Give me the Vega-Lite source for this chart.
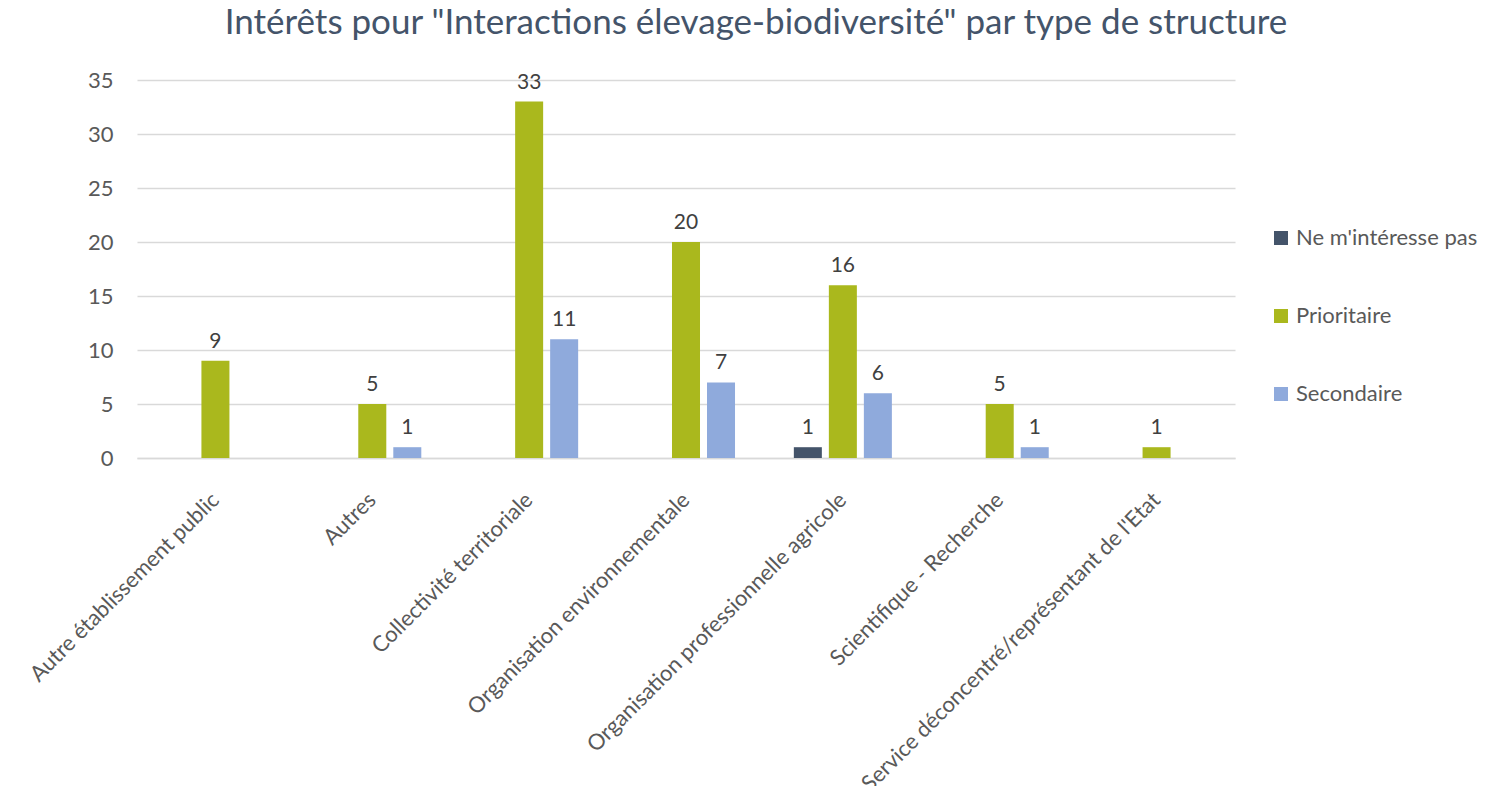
{
  "$schema": "https://vega.github.io/schema/vega-lite/v6.json",
  "width": 1098,
  "height": 378,
  "autosize": {"type": "none"},
  "padding": {"left": 137, "top": 80, "right": 259, "bottom": 328},
  "background": "white",
  "config": {
    "font": "Lato",
    "view": {"stroke": null}
  },
  "title": {
    "text": "Intérêts pour \"Interactions élevage-biodiversité\" par type de structure",
    "fontSize": 35,
    "fontWeight": "normal",
    "color": "#44546A",
    "anchor": "middle",
    "frame": "group",
    "dx": 70,
    "offset": 28
  },
  "data": {
    "values": [
      {"structure": "Autre établissement public", "interet": "Prioritaire", "n": 9},
      {"structure": "Autres", "interet": "Prioritaire", "n": 5},
      {"structure": "Autres", "interet": "Secondaire", "n": 1},
      {"structure": "Collectivité territoriale", "interet": "Prioritaire", "n": 33},
      {"structure": "Collectivité territoriale", "interet": "Secondaire", "n": 11},
      {"structure": "Organisation environnementale", "interet": "Prioritaire", "n": 20},
      {"structure": "Organisation environnementale", "interet": "Secondaire", "n": 7},
      {"structure": "Organisation professionnelle agricole", "interet": "Ne m'intéresse pas", "n": 1},
      {"structure": "Organisation professionnelle agricole", "interet": "Prioritaire", "n": 16},
      {"structure": "Organisation professionnelle agricole", "interet": "Secondaire", "n": 6},
      {"structure": "Scientifique - Recherche", "interet": "Prioritaire", "n": 5},
      {"structure": "Scientifique - Recherche", "interet": "Secondaire", "n": 1},
      {"structure": "Service déconcentré/représentant de l'Etat", "interet": "Prioritaire", "n": 1}
    ]
  },
  "encoding": {
    "x": {
      "field": "structure",
      "type": "nominal",
      "sort": null,
      "title": null,
      "scale": {
        "domain": ["Autre établissement public", "Autres", "Collectivité territoriale", "Organisation environnementale", "Organisation professionnelle agricole", "Scientifique - Recherche", "Service déconcentré/représentant de l'Etat"],
        "paddingInner": 0.375,
        "paddingOuter": 0.1875
      },
      "axis": {
        "labelAngle": -45,
        "labelAlign": "right",
        "labelBaseline": "middle",
        "labelFontSize": 22,
        "labelColor": "#595959",
        "labelPadding": 38,
        "labelLimit": 600,
        "ticks": false,
        "domainColor": "#D9D9D9",
        "domainWidth": 1.5
      }
    },
    "xOffset": {
      "field": "interet",
      "type": "nominal",
      "scale": {
        "domain": ["Ne m'intéresse pas", "Prioritaire", "Secondaire"],
        "paddingInner": 0.2,
        "paddingOuter": 0
      }
    },
    "y": {
      "field": "n",
      "type": "quantitative",
      "title": null,
      "scale": {"domain": [0, 35]},
      "axis": {
        "values": [0, 5, 10, 15, 20, 25, 30, 35],
        "labelFontSize": 22,
        "labelColor": "#595959",
        "labelPadding": 24,
        "ticks": false,
        "domain": false,
        "gridColor": "#D9D9D9",
        "gridWidth": 1.5
      }
    }
  },
  "layer": [
    {
      "mark": {"type": "bar"},
      "encoding": {
        "color": {
          "field": "interet",
          "type": "nominal",
          "title": null,
          "scale": {
            "domain": ["Ne m'intéresse pas", "Prioritaire", "Secondaire"],
            "range": ["#44546A", "#AAB81D", "#8FAADC"]
          },
          "legend": {
            "orient": "none",
            "legendX": 1133,
            "legendY": 147,
            "symbolType": "square",
            "symbolSize": 196,
            "symbolStrokeWidth": 0,
            "labelFontSize": 22,
            "labelColor": "#595959",
            "labelOffset": 4,
            "rowPadding": 56,
            "labelLimit": 400
          }
        }
      }
    },
    {
      "mark": {"type": "text", "baseline": "bottom", "dy": -9, "fontSize": 21, "color": "#404040"},
      "encoding": {
        "text": {"field": "n", "type": "quantitative"}
      }
    }
  ]
}
